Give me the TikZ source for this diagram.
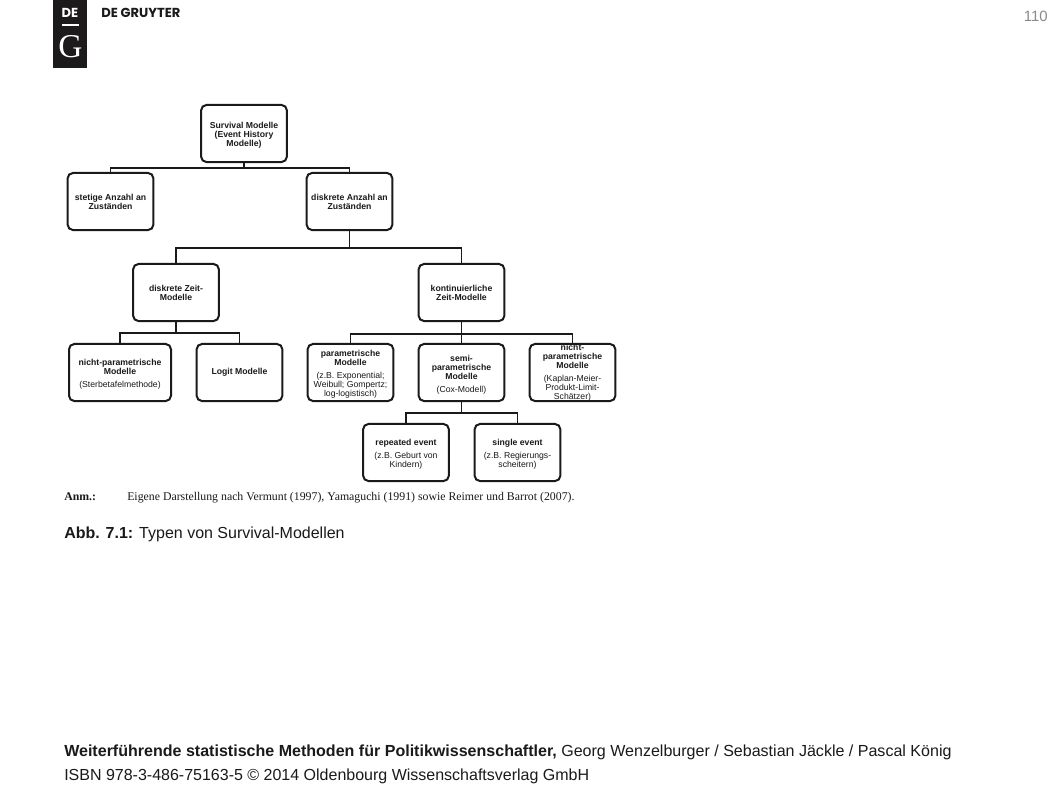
\documentclass[tikz,border=0pt]{standalone}
\usepackage{fontspec}
\setmainfont{Liberation Sans}
\newfontfamily\serifface{Liberation Serif}
\newfontfamily\logoface{Poppins}
\definecolor{ink}{HTML}{1A1A1A}
\definecolor{logoblack}{HTML}{1D1A1C}
\definecolor{pagegray}{HTML}{8A8A8A}
\newcommand{\hd}[1]{{\bfseries #1}}
\newcommand{\lowr}{\rule{0pt}{7.4pt}}
\tikzset{
  modelbox/.style={draw=ink,line width=1.5pt,rounded corners=4pt,minimum width=64.3pt,minimum height=42.8pt,inner sep=0pt,align=center,text=ink,font=\fontsize{6.5}{6.75}\selectfont},
  widebox/.style={modelbox,minimum width=76.5pt},
  link/.style={draw=ink,line width=1.25pt},
  pagetext/.style={anchor=base west,inner sep=0pt,text=ink},
}
\begin{document}
\begin{tikzpicture}[x=0.75pt,y=-0.75pt]
\useasboundingbox (0,0) rectangle (1058,794);
\fill[white] (0,0) rectangle (1058,794);
% logo
\node[fill=logoblack,minimum width=25.5pt,minimum height=51pt,inner sep=0pt,anchor=north west] (logo) at (53,0) {};
\node[text=white,inner sep=0pt,font=\logoface\bfseries\fontsize{9.8}{9}\selectfont] (de) at (70,13) {DE};
\coordinate (la) at (62,25);
\coordinate (lb) at (79,25);
\draw[white,line width=0.9pt] (la) -- (lb);
\node[text=white,inner sep=0pt,font=\serifface\fontsize{25}{25}\selectfont] (g) at (70.5,46.5) {G};
\node[text=ink,inner sep=0pt,anchor=west,font=\logoface\bfseries\fontsize{9.8}{9}\selectfont] (dg) at (101,12.5) {DE GRUYTER};
\node[text=pagegray,inner sep=0pt,anchor=base east,font=\fontsize{11.2}{13}\selectfont] (pg) at (1048,21) {110};
% boxes
\node[modelbox] (surv) at (244,133.5) {\lowr\hd{Survival Modelle}\\\hd{(Event History}\\\hd{Modelle)}};
\node[modelbox] (stet) at (110.5,201.5) {\hd{stetige Anzahl an}\\\hd{Zuständen}};
\node[modelbox] (disk) at (349.5,201.5) {\hd{diskrete Anzahl an}\\\hd{Zuständen}};
\node[modelbox] (zeit) at (176,292.5) {\hd{diskrete Zeit-}\\\hd{Modelle}};
\node[modelbox] (kont) at (461.5,292.5) {\hd{kontinuierliche}\\\hd{Zeit-Modelle}};
\node[widebox] (npl) at (120,372.5) {\lowr\hd{nicht-parametrische}\\\hd{Modelle}\\[3pt](Sterbetafelmethode)};
\node[modelbox] (logit) at (239.5,372.5) {\hd{Logit Modelle}};
\node[modelbox] (par) at (350.5,372.5) {\lowr\hd{parametrische}\\\hd{Modelle}\\[3pt](z.B. Exponential;\\Weibull; Gompertz;\\log-logistisch)};
\node[modelbox] (semi) at (461.5,372.5) {\lowr\hd{semi-}\\\hd{parametrische}\\\hd{Modelle}\\[3pt](Cox-Modell)};
\node[modelbox] (npr) at (572.5,372.5) {\hd{nicht-}\\\hd{parametrische}\\\hd{Modelle}\\[3pt](Kaplan-Meier-\\Produkt-Limit-\\Schätzer)};
\node[modelbox] (rep) at (406,452.5) {\lowr\hd{repeated event}\\[3pt](z.B. Geburt von\\Kindern)};
\node[modelbox] (sing) at (517.5,452.5) {\lowr\hd{single event}\\[3pt](z.B. Regierungs-\\scheitern)};
% connectors
\draw[link] (surv.south) -- ++(0,5) -| (stet.north);
\draw[link] (surv.south) -- ++(0,5) -| (disk.north);
\draw[link] (disk.south) -- ++(0,17) -| (zeit.north);
\draw[link] (disk.south) -- ++(0,17) -| (kont.north);
\draw[link] (zeit.south) -- ++(0,11) -| (npl.north);
\draw[link] (zeit.south) -- ++(0,11) -| (logit.north);
\draw[link] (kont.south) -- ++(0,12) -| (par.north);
\draw[link] (kont.south) -- (semi.north);
\draw[link] (kont.south) -- ++(0,12) -| (npr.north);
\draw[link] (semi.south) -- ++(0,11) -| (rep.north);
\draw[link] (semi.south) -- ++(0,11) -| (sing.north);
% notes and captions
\node[pagetext,font=\serifface\bfseries\fontsize{8.86}{10}\selectfont] (anm) at (64,500) {Anm.:};
\node[pagetext,font=\serifface\fontsize{8.86}{10}\selectfont] (src) at (127,500) {Eigene Darstellung nach Vermunt (1997), Yamaguchi (1991) sowie Reimer und Barrot (2007).};
\node[pagetext,font=\fontsize{12}{14}\selectfont] (cap) at (64,538.5) {\textbf{Abb. 7.1:} Typen von Survival-Modellen};
\node[pagetext,font=\fontsize{12.03}{14}\selectfont] (f1) at (64,756.5) {\textbf{Weiterführende statistische Methoden für Politikwissenschaftler,} Georg Wenzelburger / Sebastian Jäckle / Pascal König};
\node[pagetext,font=\fontsize{12}{14}\selectfont] (f2) at (64,780.5) {ISBN 978-3-486-75163-5 © 2014 Oldenbourg Wissenschaftsverlag GmbH};
\end{tikzpicture}
\end{document}
